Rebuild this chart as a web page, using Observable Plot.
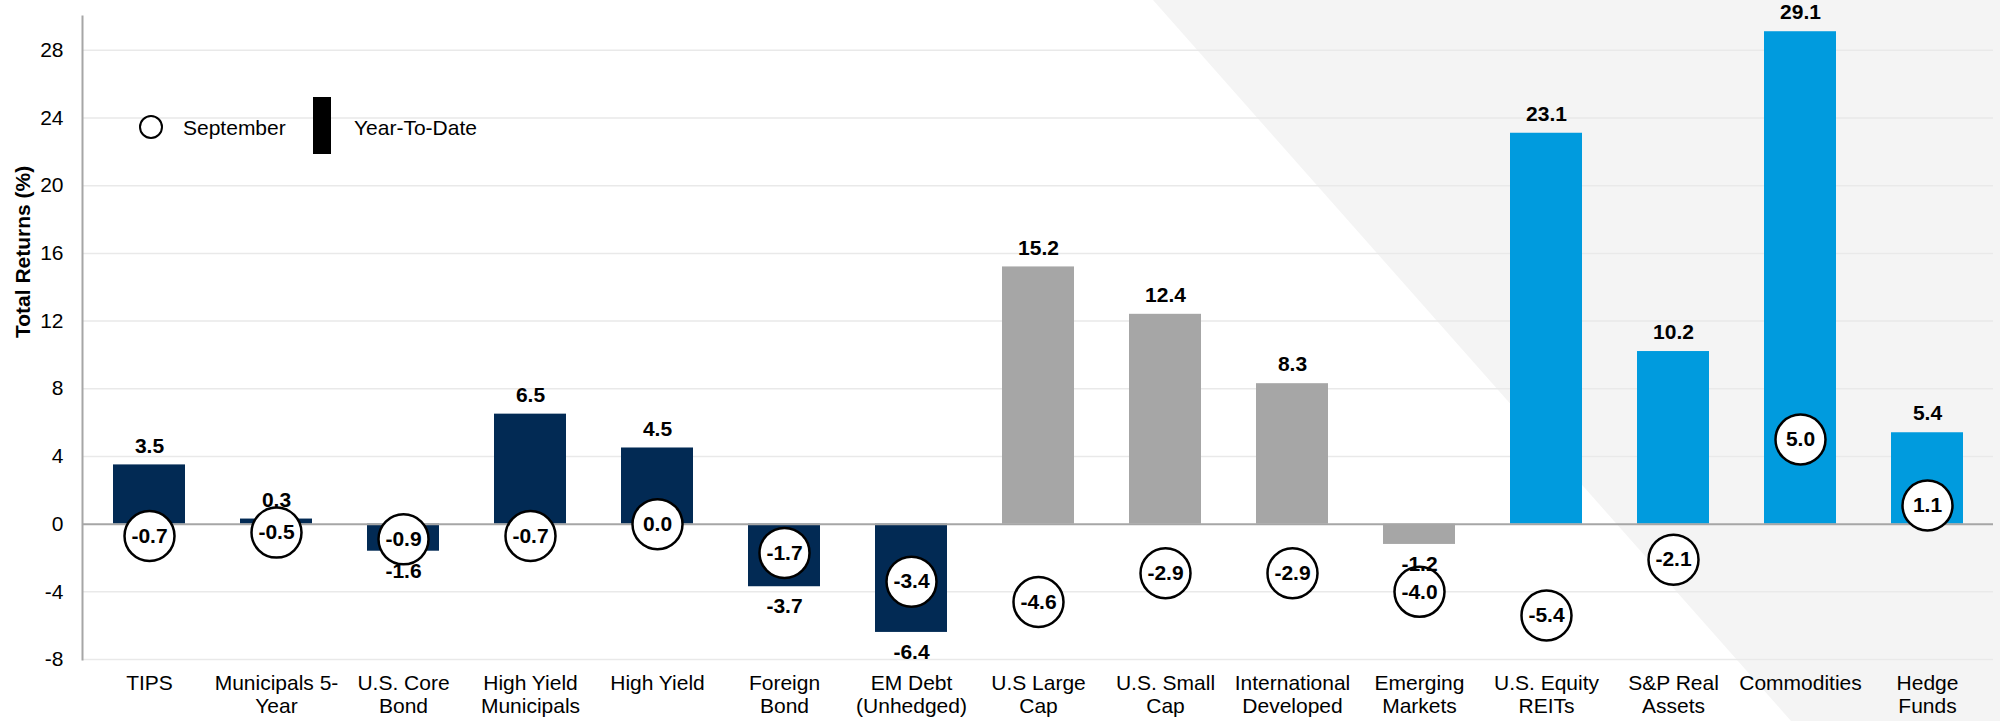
<!DOCTYPE html>
<html>
<head>
<meta charset="utf-8">
<script src="https://cdn.jsdelivr.net/npm/d3@7"></script>
<script src="https://cdn.jsdelivr.net/npm/@observablehq/plot@0.6"></script>
<style>
  html, body { margin: 0; padding: 0; background: #ffffff; }
  #wrap { position: relative; width: 2000px; height: 721px; overflow: hidden; font-family: "Liberation Sans", Arial, sans-serif; }
  #bg { position: absolute; left: 0; top: 0; width: 2000px; height: 721px; background: #f4f4f4;
        clip-path: polygon(1153px 0, 2000px 0, 2000px 721px, 1791px 721px); }
  #chart { position: absolute; left: 0; top: 0; }
  .leg { position: absolute; font-size: 21px; color: #000; line-height: 1; }
</style>
</head>
<body>
<div id="wrap">
  <div id="bg"></div>
  <div id="chart"></div>
  <div class="leg" style="left:139px;top:115px;width:20px;height:20px;border:2.5px solid #000;border-radius:50%;background:#fff;"></div>
  <div class="leg" style="left:183px;top:117px;">September</div>
  <div class="leg" style="left:313px;top:97px;width:18px;height:57px;background:#000;"></div>
  <div class="leg" style="left:354px;top:117px;">Year-To-Date</div>
</div>
<script>
const categories = [
  "TIPS", "Municipals 5-Year", "U.S. Core Bond", "High Yield Municipals", "High Yield",
  "Foreign Bond", "EM Debt (Unhedged)", "U.S Large Cap", "U.S. Small Cap", "International Developed",
  "Emerging Markets", "U.S. Equity REITs", "S&P Real Assets", "Commodities", "Hedge Funds"
];
const tickLabels = [
  "TIPS", "Municipals 5-\nYear", "U.S. Core\nBond", "High Yield\nMunicipals", "High Yield",
  "Foreign\nBond", "EM Debt\n(Unhedged)", "U.S Large\nCap", "U.S. Small\nCap", "International\nDeveloped",
  "Emerging\nMarkets", "U.S. Equity\nREITs", "S&P Real\nAssets", "Commodities", "Hedge\nFunds"
];
const yearToDate = [3.5, 0.3, -1.6, 6.5, 4.5, -3.7, -6.4, 15.2, 12.4, 8.3, -1.2, 23.1, 10.2, 29.1, 5.4];
const september = [-0.7, -0.5, -0.9, -0.7, 0.0, -1.7, -3.4, -4.6, -2.9, -2.9, -4.0, -5.4, -2.1, 5.0, 1.1];
const groups = [
  "Fixed Income", "Fixed Income", "Fixed Income", "Fixed Income", "Fixed Income", "Fixed Income", "Fixed Income",
  "Equity", "Equity", "Equity", "Equity",
  "Real Assets", "Real Assets", "Real Assets", "Real Assets"
];
const groupNames = ["Fixed Income", "Equity", "Real Assets"];
const groupColors = ["#022a54", "#a6a6a6", "#009bde"];
const yTicks = [-8, -4, 0, 4, 8, 12, 16, 20, 24, 28];
const yTitle = "Total Returns (%)";

const data = categories.map((c, i) => ({
  category: c, label: tickLabels[i], ytd: yearToDate[i], sep: september[i], group: groups[i]
}));
const labelOf = new Map(data.map(d => [d.category, d.label]));
const fmt = v => v.toFixed(1);
const font = "Liberation Sans, Arial, sans-serif";

const chart = Plot.plot({
  width: 2000,
  height: 721,
  marginTop: 16,
  marginBottom: 62,
  marginLeft: 82,
  marginRight: 7,
  style: { background: "transparent", fontFamily: font, fontSize: "21px", color: "#000", overflow: "visible" },
  x: { domain: categories, paddingInner: 0.435, paddingOuter: 0.2175, axis: null },
  y: { domain: [-8, 30], axis: null },
  color: { domain: groupNames, range: groupColors },
  marks: [
    Plot.ruleY(yTicks.filter(d => d !== 0), { stroke: "#e9e9e9", strokeWidth: 1.5 }),
    Plot.barY(data, { x: "category", y: "ytd", fill: "group" }),
    Plot.ruleY([0], { stroke: "#a6a6a6", strokeWidth: 2 }),
    Plot.frame({ anchor: "left", stroke: "#a6a6a6", strokeWidth: 2 }),
    Plot.axisY({ ticks: yTicks, tickSize: 0, tickPadding: 19, fontSize: 21, label: null, tickFormat: d => String(d) }),
    Plot.axisX({ tickSize: 0, tickPadding: 14, fontSize: 21, lineHeight: 1.1, label: null, tickFormat: c => labelOf.get(c) }),
    Plot.text([yTitle], { frameAnchor: "left", dx: -59, rotate: -90, fontWeight: "bold", fontSize: 21, text: d => d }),
    Plot.dot(data, { x: "category", y: "sep", r: 25, fill: "white", stroke: "black", strokeWidth: 2.5 }),
    Plot.text(data, { x: "category", y: "sep", text: d => fmt(d.sep), fontWeight: "bold", fontSize: 21 }),
    Plot.text(data.filter(d => d.ytd >= 0), { x: "category", y: "ytd", text: d => fmt(d.ytd), dy: -19, fontWeight: "bold", fontSize: 21 }),
    Plot.text(data.filter(d => d.ytd < 0), { x: "category", y: "ytd", text: d => fmt(d.ytd), dy: 20, fontWeight: "bold", fontSize: 21 })
  ]
});
document.getElementById("chart").appendChild(chart);
</script>
</body>
</html>
